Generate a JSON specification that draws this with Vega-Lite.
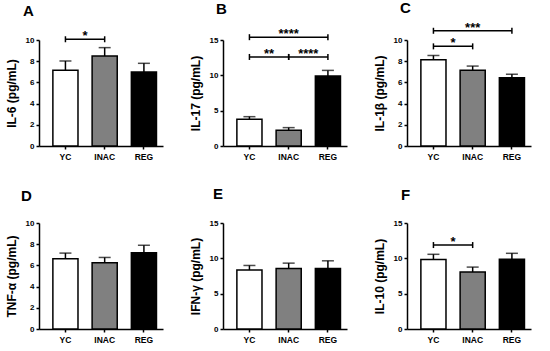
{
  "$schema": "https://vega.github.io/schema/vega-lite/v6.json",
  "background": "white",
  "padding": {"left": 5, "top": 1, "right": 5, "bottom": 2},
  "datasets": {
    "bars": [
      {"panel": "A", "group": "YC", "mean": 7.14, "upper": 8.02},
      {"panel": "A", "group": "INAC", "mean": 8.49, "upper": 9.28},
      {"panel": "A", "group": "REG", "mean": 6.98, "upper": 7.8},
      {"panel": "B", "group": "YC", "mean": 3.77, "upper": 4.15},
      {"panel": "B", "group": "INAC", "mean": 2.22, "upper": 2.6},
      {"panel": "B", "group": "REG", "mean": 9.9, "upper": 10.7},
      {"panel": "C", "group": "YC", "mean": 8.14, "upper": 8.54},
      {"panel": "C", "group": "INAC", "mean": 7.14, "upper": 7.54},
      {"panel": "C", "group": "REG", "mean": 6.43, "upper": 6.77},
      {"panel": "D", "group": "YC", "mean": 6.63, "upper": 7.16},
      {"panel": "D", "group": "INAC", "mean": 6.25, "upper": 6.75},
      {"panel": "D", "group": "REG", "mean": 7.19, "upper": 7.9},
      {"panel": "E", "group": "YC", "mean": 8.35, "upper": 8.99},
      {"panel": "E", "group": "INAC", "mean": 8.57, "upper": 9.32},
      {"panel": "E", "group": "REG", "mean": 8.57, "upper": 9.65},
      {"panel": "F", "group": "YC", "mean": 9.83, "upper": 10.57},
      {"panel": "F", "group": "INAC", "mean": 8.06, "upper": 8.76},
      {"panel": "F", "group": "REG", "mean": 9.87, "upper": 10.71}
    ],
    "sig": [
      {"panel": "A", "g1": "YC", "g2": "INAC", "y": 10.07, "label": "*"},
      {"panel": "B", "g1": "YC", "g2": "REG", "y": 15.4, "label": "****"},
      {"panel": "B", "g1": "YC", "g2": "INAC", "y": 12.6, "label": "**"},
      {"panel": "B", "g1": "INAC", "g2": "REG", "y": 12.6, "label": "****"},
      {"panel": "C", "g1": "YC", "g2": "REG", "y": 10.87, "label": "***"},
      {"panel": "C", "g1": "YC", "g2": "INAC", "y": 9.4, "label": "*"},
      {"panel": "F", "g1": "YC", "g2": "INAC", "y": 11.88, "label": "*"}
    ]
  },
  "columns": 3,
  "spacing": {"row": 26, "column": 26},
  "concat": [
    {
      "width": 124, "height": 106,
      "title": {"text": "A", "dx": -16, "offset": 11},
      "layer": [
        {"data": {"name": "bars"}, "transform": [{"filter": "datum.panel === 'A'"}],
         "mark": {"type": "rule", "strokeWidth": 1.5, "color": "black"},
         "encoding": {
           "x": {"field": "group", "type": "nominal", "title": null, "scale": {"domain": ["YC", "INAC", "REG"], "paddingInner": 0.36, "paddingOuter": 0.26, "align": 0.68}},
           "y": {"field": "mean", "type": "quantitative", "title": "IL-6 (pg/mL)", "scale": {"domain": [0, 10], "nice": false}, "axis": {"values": [0, 2, 4, 6, 8, 10], "labelOverlap": false}},
           "y2": {"field": "upper"}}},
        {"data": {"name": "bars"}, "transform": [{"filter": "datum.panel === 'A'"}],
         "mark": {"type": "bar", "stroke": "black", "strokeWidth": 1.5},
         "encoding": {
           "x": {"field": "group", "type": "nominal", "title": null},
           "y": {"field": "mean", "type": "quantitative", "title": "IL-6 (pg/mL)", "axis": {"values": [0, 2, 4, 6, 8, 10], "labelOverlap": false}},
           "fill": {"field": "group", "type": "nominal", "scale": {"domain": ["YC", "INAC", "REG"], "range": ["#ffffff", "#808080", "#000000"]}, "legend": null}}},
        {"data": {"name": "bars"}, "transform": [{"filter": "datum.panel === 'A'"}],
         "mark": {"type": "tick", "color": "black", "thickness": 1.5, "size": 12, "orient": "horizontal"},
         "encoding": {
           "x": {"field": "group", "type": "nominal", "title": null},
           "y": {"field": "upper", "type": "quantitative", "title": "IL-6 (pg/mL)", "axis": {"values": [0, 2, 4, 6, 8, 10], "labelOverlap": false}}}},
        {"data": {"name": "sig"}, "transform": [{"filter": "datum.panel === 'A'"}],
         "mark": {"type": "rule", "strokeWidth": 1.5, "color": "black"},
         "encoding": {
           "x": {"field": "g1", "type": "nominal", "title": null, "bandPosition": 0.5},
           "x2": {"field": "g2", "bandPosition": 0.5},
           "y": {"field": "y", "type": "quantitative", "title": "IL-6 (pg/mL)", "axis": {"values": [0, 2, 4, 6, 8, 10], "labelOverlap": false}}}},
        {"data": {"name": "sig"}, "transform": [{"filter": "datum.panel === 'A'"}],
         "mark": {"type": "point", "shape": "M0,-1V1", "size": 36, "strokeWidth": 1.5, "color": "black", "opacity": 1},
         "encoding": {
           "x": {"field": "g1", "type": "nominal", "title": null, "bandPosition": 0.5},
           "y": {"field": "y", "type": "quantitative", "title": "IL-6 (pg/mL)", "axis": {"values": [0, 2, 4, 6, 8, 10], "labelOverlap": false}}}},
        {"data": {"name": "sig"}, "transform": [{"filter": "datum.panel === 'A'"}],
         "mark": {"type": "point", "shape": "M0,-1V1", "size": 36, "strokeWidth": 1.5, "color": "black", "opacity": 1},
         "encoding": {
           "x": {"field": "g2", "type": "nominal", "title": null, "bandPosition": 0.5},
           "y": {"field": "y", "type": "quantitative", "title": "IL-6 (pg/mL)", "axis": {"values": [0, 2, 4, 6, 8, 10], "labelOverlap": false}}}},
        {"data": {"name": "sig"}, "transform": [{"filter": "datum.panel === 'A' && indexof(['YC','INAC','REG'], datum.g2) - indexof(['YC','INAC','REG'], datum.g1) === 1"}],
         "mark": {"type": "text", "fontSize": 13, "fontWeight": "bold", "baseline": "alphabetic", "dy": 1, "color": "black"},
         "encoding": {
           "x": {"field": "g1", "type": "nominal", "title": null, "bandPosition": 1.281},
           "y": {"field": "y", "type": "quantitative", "title": "IL-6 (pg/mL)", "axis": {"values": [0, 2, 4, 6, 8, 10], "labelOverlap": false}},
           "text": {"field": "label"}}}
      ]
    },
    {
      "width": 124, "height": 106,
      "title": {"text": "B", "dx": -7, "offset": 11},
      "layer": [
        {"data": {"name": "bars"}, "transform": [{"filter": "datum.panel === 'B'"}],
         "mark": {"type": "rule", "strokeWidth": 1.5, "color": "black"},
         "encoding": {
           "x": {"field": "group", "type": "nominal", "title": null, "scale": {"domain": ["YC", "INAC", "REG"], "paddingInner": 0.36, "paddingOuter": 0.26, "align": 0.68}},
           "y": {"field": "mean", "type": "quantitative", "title": "IL-17 (pg/mL)", "scale": {"domain": [0, 15], "nice": false}, "axis": {"values": [0, 5, 10, 15], "labelOverlap": false}},
           "y2": {"field": "upper"}}},
        {"data": {"name": "bars"}, "transform": [{"filter": "datum.panel === 'B'"}],
         "mark": {"type": "bar", "stroke": "black", "strokeWidth": 1.5},
         "encoding": {
           "x": {"field": "group", "type": "nominal", "title": null},
           "y": {"field": "mean", "type": "quantitative", "title": "IL-17 (pg/mL)", "axis": {"values": [0, 5, 10, 15], "labelOverlap": false}},
           "fill": {"field": "group", "type": "nominal", "scale": {"domain": ["YC", "INAC", "REG"], "range": ["#ffffff", "#808080", "#000000"]}, "legend": null}}},
        {"data": {"name": "bars"}, "transform": [{"filter": "datum.panel === 'B'"}],
         "mark": {"type": "tick", "color": "black", "thickness": 1.5, "size": 12, "orient": "horizontal"},
         "encoding": {
           "x": {"field": "group", "type": "nominal", "title": null},
           "y": {"field": "upper", "type": "quantitative", "title": "IL-17 (pg/mL)", "axis": {"values": [0, 5, 10, 15], "labelOverlap": false}}}},
        {"data": {"name": "sig"}, "transform": [{"filter": "datum.panel === 'B'"}],
         "mark": {"type": "rule", "strokeWidth": 1.5, "color": "black"},
         "encoding": {
           "x": {"field": "g1", "type": "nominal", "title": null, "bandPosition": 0.5},
           "x2": {"field": "g2", "bandPosition": 0.5},
           "y": {"field": "y", "type": "quantitative", "title": "IL-17 (pg/mL)", "axis": {"values": [0, 5, 10, 15], "labelOverlap": false}}}},
        {"data": {"name": "sig"}, "transform": [{"filter": "datum.panel === 'B'"}],
         "mark": {"type": "point", "shape": "M0,-1V1", "size": 36, "strokeWidth": 1.5, "color": "black", "opacity": 1},
         "encoding": {
           "x": {"field": "g1", "type": "nominal", "title": null, "bandPosition": 0.5},
           "y": {"field": "y", "type": "quantitative", "title": "IL-17 (pg/mL)", "axis": {"values": [0, 5, 10, 15], "labelOverlap": false}}}},
        {"data": {"name": "sig"}, "transform": [{"filter": "datum.panel === 'B'"}],
         "mark": {"type": "point", "shape": "M0,-1V1", "size": 36, "strokeWidth": 1.5, "color": "black", "opacity": 1},
         "encoding": {
           "x": {"field": "g2", "type": "nominal", "title": null, "bandPosition": 0.5},
           "y": {"field": "y", "type": "quantitative", "title": "IL-17 (pg/mL)", "axis": {"values": [0, 5, 10, 15], "labelOverlap": false}}}},
        {"data": {"name": "sig"}, "transform": [{"filter": "datum.panel === 'B' && indexof(['YC','INAC','REG'], datum.g2) - indexof(['YC','INAC','REG'], datum.g1) === 1"}],
         "mark": {"type": "text", "fontSize": 13, "fontWeight": "bold", "baseline": "alphabetic", "dy": 1, "color": "black"},
         "encoding": {
           "x": {"field": "g1", "type": "nominal", "title": null, "bandPosition": 1.281},
           "y": {"field": "y", "type": "quantitative", "title": "IL-17 (pg/mL)", "axis": {"values": [0, 5, 10, 15], "labelOverlap": false}},
           "text": {"field": "label"}}},
        {"data": {"name": "sig"}, "transform": [{"filter": "datum.panel === 'B' && indexof(['YC','INAC','REG'], datum.g2) - indexof(['YC','INAC','REG'], datum.g1) === 2"}],
         "mark": {"type": "text", "fontSize": 13, "fontWeight": "bold", "baseline": "alphabetic", "dy": 1, "color": "black"},
         "encoding": {
           "x": {"field": "g1", "type": "nominal", "title": null, "bandPosition": 2.0625},
           "y": {"field": "y", "type": "quantitative", "title": "IL-17 (pg/mL)", "axis": {"values": [0, 5, 10, 15], "labelOverlap": false}},
           "text": {"field": "label"}}}
      ]
    },
    {
      "width": 124, "height": 106,
      "title": {"text": "C", "dx": -7, "offset": 5.5},
      "layer": [
        {"data": {"name": "bars"}, "transform": [{"filter": "datum.panel === 'C'"}],
         "mark": {"type": "rule", "strokeWidth": 1.5, "color": "black"},
         "encoding": {
           "x": {"field": "group", "type": "nominal", "title": null, "scale": {"domain": ["YC", "INAC", "REG"], "paddingInner": 0.36, "paddingOuter": 0.26, "align": 0.68}},
           "y": {"field": "mean", "type": "quantitative", "title": "IL-1β (pg/mL)", "scale": {"domain": [0, 10], "nice": false}, "axis": {"values": [0, 2, 4, 6, 8, 10], "labelOverlap": false}},
           "y2": {"field": "upper"}}},
        {"data": {"name": "bars"}, "transform": [{"filter": "datum.panel === 'C'"}],
         "mark": {"type": "bar", "stroke": "black", "strokeWidth": 1.5},
         "encoding": {
           "x": {"field": "group", "type": "nominal", "title": null},
           "y": {"field": "mean", "type": "quantitative", "title": "IL-1β (pg/mL)", "axis": {"values": [0, 2, 4, 6, 8, 10], "labelOverlap": false}},
           "fill": {"field": "group", "type": "nominal", "scale": {"domain": ["YC", "INAC", "REG"], "range": ["#ffffff", "#808080", "#000000"]}, "legend": null}}},
        {"data": {"name": "bars"}, "transform": [{"filter": "datum.panel === 'C'"}],
         "mark": {"type": "tick", "color": "black", "thickness": 1.5, "size": 12, "orient": "horizontal"},
         "encoding": {
           "x": {"field": "group", "type": "nominal", "title": null},
           "y": {"field": "upper", "type": "quantitative", "title": "IL-1β (pg/mL)", "axis": {"values": [0, 2, 4, 6, 8, 10], "labelOverlap": false}}}},
        {"data": {"name": "sig"}, "transform": [{"filter": "datum.panel === 'C'"}],
         "mark": {"type": "rule", "strokeWidth": 1.5, "color": "black"},
         "encoding": {
           "x": {"field": "g1", "type": "nominal", "title": null, "bandPosition": 0.5},
           "x2": {"field": "g2", "bandPosition": 0.5},
           "y": {"field": "y", "type": "quantitative", "title": "IL-1β (pg/mL)", "axis": {"values": [0, 2, 4, 6, 8, 10], "labelOverlap": false}}}},
        {"data": {"name": "sig"}, "transform": [{"filter": "datum.panel === 'C'"}],
         "mark": {"type": "point", "shape": "M0,-1V1", "size": 36, "strokeWidth": 1.5, "color": "black", "opacity": 1},
         "encoding": {
           "x": {"field": "g1", "type": "nominal", "title": null, "bandPosition": 0.5},
           "y": {"field": "y", "type": "quantitative", "title": "IL-1β (pg/mL)", "axis": {"values": [0, 2, 4, 6, 8, 10], "labelOverlap": false}}}},
        {"data": {"name": "sig"}, "transform": [{"filter": "datum.panel === 'C'"}],
         "mark": {"type": "point", "shape": "M0,-1V1", "size": 36, "strokeWidth": 1.5, "color": "black", "opacity": 1},
         "encoding": {
           "x": {"field": "g2", "type": "nominal", "title": null, "bandPosition": 0.5},
           "y": {"field": "y", "type": "quantitative", "title": "IL-1β (pg/mL)", "axis": {"values": [0, 2, 4, 6, 8, 10], "labelOverlap": false}}}},
        {"data": {"name": "sig"}, "transform": [{"filter": "datum.panel === 'C' && indexof(['YC','INAC','REG'], datum.g2) - indexof(['YC','INAC','REG'], datum.g1) === 1"}],
         "mark": {"type": "text", "fontSize": 13, "fontWeight": "bold", "baseline": "alphabetic", "dy": 1, "color": "black"},
         "encoding": {
           "x": {"field": "g1", "type": "nominal", "title": null, "bandPosition": 1.281},
           "y": {"field": "y", "type": "quantitative", "title": "IL-1β (pg/mL)", "axis": {"values": [0, 2, 4, 6, 8, 10], "labelOverlap": false}},
           "text": {"field": "label"}}},
        {"data": {"name": "sig"}, "transform": [{"filter": "datum.panel === 'C' && indexof(['YC','INAC','REG'], datum.g2) - indexof(['YC','INAC','REG'], datum.g1) === 2"}],
         "mark": {"type": "text", "fontSize": 13, "fontWeight": "bold", "baseline": "alphabetic", "dy": 1, "color": "black"},
         "encoding": {
           "x": {"field": "g1", "type": "nominal", "title": null, "bandPosition": 2.0625},
           "y": {"field": "y", "type": "quantitative", "title": "IL-1β (pg/mL)", "axis": {"values": [0, 2, 4, 6, 8, 10], "labelOverlap": false}},
           "text": {"field": "label"}}}
      ]
    },
    {
      "width": 124, "height": 106,
      "title": {"text": "D", "dx": -18, "offset": 15},
      "layer": [
        {"data": {"name": "bars"}, "transform": [{"filter": "datum.panel === 'D'"}],
         "mark": {"type": "rule", "strokeWidth": 1.5, "color": "black"},
         "encoding": {
           "x": {"field": "group", "type": "nominal", "title": null, "scale": {"domain": ["YC", "INAC", "REG"], "paddingInner": 0.36, "paddingOuter": 0.26, "align": 0.68}},
           "y": {"field": "mean", "type": "quantitative", "title": "TNF-α (pg/mL)", "scale": {"domain": [0, 10], "nice": false}, "axis": {"values": [0, 2, 4, 6, 8, 10], "labelOverlap": false}},
           "y2": {"field": "upper"}}},
        {"data": {"name": "bars"}, "transform": [{"filter": "datum.panel === 'D'"}],
         "mark": {"type": "bar", "stroke": "black", "strokeWidth": 1.5},
         "encoding": {
           "x": {"field": "group", "type": "nominal", "title": null},
           "y": {"field": "mean", "type": "quantitative", "title": "TNF-α (pg/mL)", "axis": {"values": [0, 2, 4, 6, 8, 10], "labelOverlap": false}},
           "fill": {"field": "group", "type": "nominal", "scale": {"domain": ["YC", "INAC", "REG"], "range": ["#ffffff", "#808080", "#000000"]}, "legend": null}}},
        {"data": {"name": "bars"}, "transform": [{"filter": "datum.panel === 'D'"}],
         "mark": {"type": "tick", "color": "black", "thickness": 1.5, "size": 12, "orient": "horizontal"},
         "encoding": {
           "x": {"field": "group", "type": "nominal", "title": null},
           "y": {"field": "upper", "type": "quantitative", "title": "TNF-α (pg/mL)", "axis": {"values": [0, 2, 4, 6, 8, 10], "labelOverlap": false}}}}
      ]
    },
    {
      "width": 124, "height": 106,
      "title": {"text": "E", "dx": -10, "offset": 17},
      "layer": [
        {"data": {"name": "bars"}, "transform": [{"filter": "datum.panel === 'E'"}],
         "mark": {"type": "rule", "strokeWidth": 1.5, "color": "black"},
         "encoding": {
           "x": {"field": "group", "type": "nominal", "title": null, "scale": {"domain": ["YC", "INAC", "REG"], "paddingInner": 0.36, "paddingOuter": 0.26, "align": 0.68}},
           "y": {"field": "mean", "type": "quantitative", "title": "IFN-γ (pg/mL)", "scale": {"domain": [0, 15], "nice": false}, "axis": {"values": [0, 5, 10, 15], "labelOverlap": false}},
           "y2": {"field": "upper"}}},
        {"data": {"name": "bars"}, "transform": [{"filter": "datum.panel === 'E'"}],
         "mark": {"type": "bar", "stroke": "black", "strokeWidth": 1.5},
         "encoding": {
           "x": {"field": "group", "type": "nominal", "title": null},
           "y": {"field": "mean", "type": "quantitative", "title": "IFN-γ (pg/mL)", "axis": {"values": [0, 5, 10, 15], "labelOverlap": false}},
           "fill": {"field": "group", "type": "nominal", "scale": {"domain": ["YC", "INAC", "REG"], "range": ["#ffffff", "#808080", "#000000"]}, "legend": null}}},
        {"data": {"name": "bars"}, "transform": [{"filter": "datum.panel === 'E'"}],
         "mark": {"type": "tick", "color": "black", "thickness": 1.5, "size": 12, "orient": "horizontal"},
         "encoding": {
           "x": {"field": "group", "type": "nominal", "title": null},
           "y": {"field": "upper", "type": "quantitative", "title": "IFN-γ (pg/mL)", "axis": {"values": [0, 5, 10, 15], "labelOverlap": false}}}}
      ]
    },
    {
      "width": 124, "height": 106,
      "title": {"text": "F", "dx": -6, "offset": 16},
      "layer": [
        {"data": {"name": "bars"}, "transform": [{"filter": "datum.panel === 'F'"}],
         "mark": {"type": "rule", "strokeWidth": 1.5, "color": "black"},
         "encoding": {
           "x": {"field": "group", "type": "nominal", "title": null, "scale": {"domain": ["YC", "INAC", "REG"], "paddingInner": 0.36, "paddingOuter": 0.26, "align": 0.68}},
           "y": {"field": "mean", "type": "quantitative", "title": "IL-10 (pg/mL)", "scale": {"domain": [0, 15], "nice": false}, "axis": {"values": [0, 5, 10, 15], "labelOverlap": false}},
           "y2": {"field": "upper"}}},
        {"data": {"name": "bars"}, "transform": [{"filter": "datum.panel === 'F'"}],
         "mark": {"type": "bar", "stroke": "black", "strokeWidth": 1.5},
         "encoding": {
           "x": {"field": "group", "type": "nominal", "title": null},
           "y": {"field": "mean", "type": "quantitative", "title": "IL-10 (pg/mL)", "axis": {"values": [0, 5, 10, 15], "labelOverlap": false}},
           "fill": {"field": "group", "type": "nominal", "scale": {"domain": ["YC", "INAC", "REG"], "range": ["#ffffff", "#808080", "#000000"]}, "legend": null}}},
        {"data": {"name": "bars"}, "transform": [{"filter": "datum.panel === 'F'"}],
         "mark": {"type": "tick", "color": "black", "thickness": 1.5, "size": 12, "orient": "horizontal"},
         "encoding": {
           "x": {"field": "group", "type": "nominal", "title": null},
           "y": {"field": "upper", "type": "quantitative", "title": "IL-10 (pg/mL)", "axis": {"values": [0, 5, 10, 15], "labelOverlap": false}}}},
        {"data": {"name": "sig"}, "transform": [{"filter": "datum.panel === 'F'"}],
         "mark": {"type": "rule", "strokeWidth": 1.5, "color": "black"},
         "encoding": {
           "x": {"field": "g1", "type": "nominal", "title": null, "bandPosition": 0.5},
           "x2": {"field": "g2", "bandPosition": 0.5},
           "y": {"field": "y", "type": "quantitative", "title": "IL-10 (pg/mL)", "axis": {"values": [0, 5, 10, 15], "labelOverlap": false}}}},
        {"data": {"name": "sig"}, "transform": [{"filter": "datum.panel === 'F'"}],
         "mark": {"type": "point", "shape": "M0,-1V1", "size": 36, "strokeWidth": 1.5, "color": "black", "opacity": 1},
         "encoding": {
           "x": {"field": "g1", "type": "nominal", "title": null, "bandPosition": 0.5},
           "y": {"field": "y", "type": "quantitative", "title": "IL-10 (pg/mL)", "axis": {"values": [0, 5, 10, 15], "labelOverlap": false}}}},
        {"data": {"name": "sig"}, "transform": [{"filter": "datum.panel === 'F'"}],
         "mark": {"type": "point", "shape": "M0,-1V1", "size": 36, "strokeWidth": 1.5, "color": "black", "opacity": 1},
         "encoding": {
           "x": {"field": "g2", "type": "nominal", "title": null, "bandPosition": 0.5},
           "y": {"field": "y", "type": "quantitative", "title": "IL-10 (pg/mL)", "axis": {"values": [0, 5, 10, 15], "labelOverlap": false}}}},
        {"data": {"name": "sig"}, "transform": [{"filter": "datum.panel === 'F' && indexof(['YC','INAC','REG'], datum.g2) - indexof(['YC','INAC','REG'], datum.g1) === 1"}],
         "mark": {"type": "text", "fontSize": 13, "fontWeight": "bold", "baseline": "alphabetic", "dy": 1, "color": "black"},
         "encoding": {
           "x": {"field": "g1", "type": "nominal", "title": null, "bandPosition": 1.281},
           "y": {"field": "y", "type": "quantitative", "title": "IL-10 (pg/mL)", "axis": {"values": [0, 5, 10, 15], "labelOverlap": false}},
           "text": {"field": "label"}}}
      ]
    }
  ],
  "config": {
    "font": "Liberation Sans",
    "view": {"stroke": null},
    "title": {"anchor": "start", "frame": "group", "fontSize": 15, "fontWeight": "bold", "color": "black", "font": "Liberation Sans"},
    "axis": {
      "domainColor": "black", "domainWidth": 1.5, "tickColor": "black", "tickWidth": 1.5, "tickSize": 3,
      "labelFont": "Liberation Sans", "labelFontWeight": "bold", "labelColor": "black", "grid": false,
      "titleFont": "Liberation Sans", "titleFontWeight": "bold", "titleColor": "black"
    },
    "axisX": {"labelFontSize": 8.5, "labelAngle": 0, "labelPadding": 3},
    "axisY": {"labelFontSize": 8, "titleFontSize": 12, "titlePadding": 7, "labelPadding": 2}
  }
}
